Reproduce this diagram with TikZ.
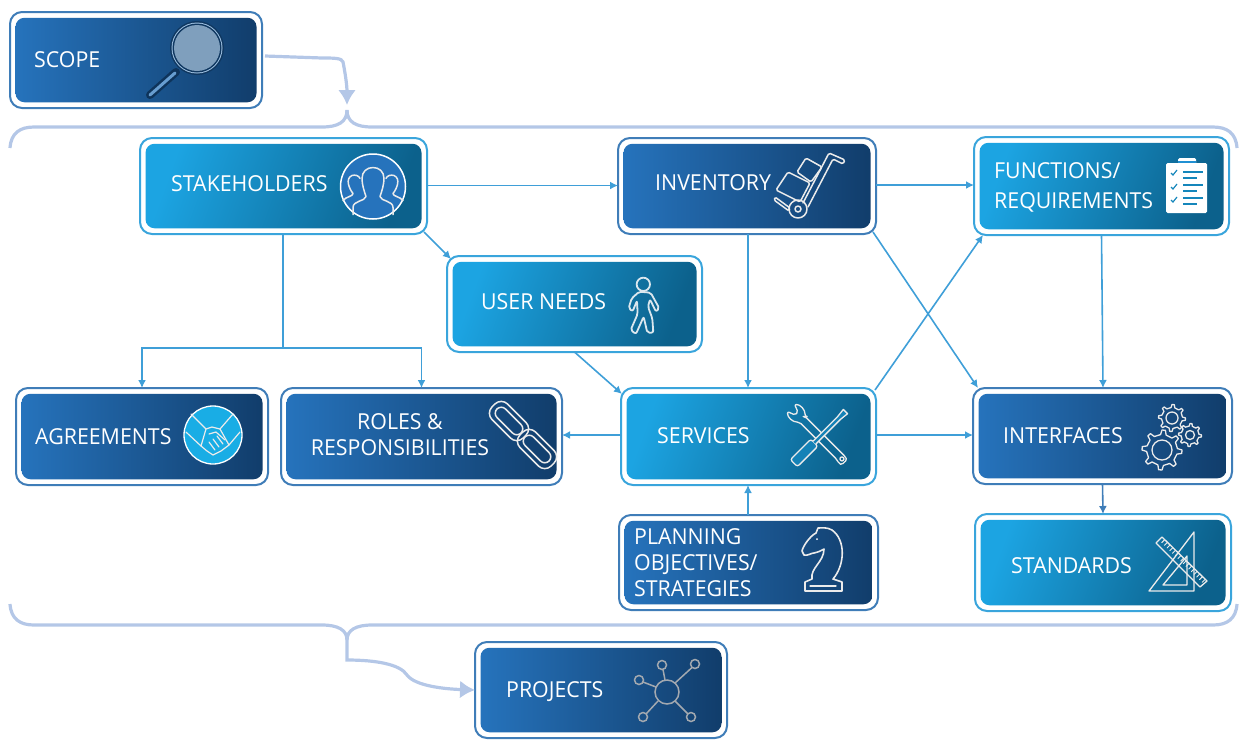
\documentclass[tikz,border=0pt]{standalone}
\usepackage{fontspec}
\setmainfont[FakeStretch=0.97]{Open Sans}
\usetikzlibrary{arrows.meta,calc,shapes.geometric}
\definecolor{dkL}{HTML}{2673BC}
\definecolor{dkR}{HTML}{113D6B}
\definecolor{ltL}{HTML}{1CA4E2}
\definecolor{ltR}{HTML}{0C618C}
\definecolor{dkB}{HTML}{3F7DB8}
\definecolor{ltB}{HTML}{3AA5DC}
\definecolor{brc}{HTML}{B4C7E7}
\definecolor{cn}{HTML}{3F9FD8}
\definecolor{icgrey}{HTML}{A3A9B0}
\definecolor{lens}{HTML}{7F9FBD}
\tikzset{
 dkout/.style={draw=dkB,fill=white,line width=2pt,rounded corners=12pt,inner sep=0pt,outer sep=0pt},
 ltout/.style={draw=ltB,fill=white,line width=2pt,rounded corners=12pt,inner sep=0pt,outer sep=0pt},
 dkin/.style={rounded corners=9pt,inner sep=0pt,left color=dkL,right color=dkR},
 ltin/.style={rounded corners=9pt,inner sep=0pt,left color=ltL,right color=ltR,shading angle=70},
 lbl/.style={text=white,inner sep=0pt,anchor=west,align=left,yshift=-1pt,font=\fontsize{22}{26}\selectfont},
 lblc/.style={lbl,anchor=center,align=center},
 link/.style={draw=cn,line width=1.6pt,-{Latex[length=8pt,width=8pt]}},
 plain/.style={draw=cn,line width=1.6pt},
 brace/.style={draw=brc,line width=3.2pt},
 bigtip/.style={-{Latex[length=15pt,width=18pt]}},
 ic/.style={draw=white!92!black,line width=1.5pt,line join=round,line cap=round},
}
\newcommand\bx[6]{%
 \node[#6out,minimum width={(#4-#2)*1pt},minimum height={(#5-#3)*1pt}] (#1) at ({(#2+#4)/2},{(#3+#5)/2}) {};
 \node[#6in,minimum width={(#4-#2-11)*1pt},minimum height={(#5-#3-11.5)*1pt}] (#1i) at ({(#2+#4)/2},{(#3+#5)/2}) {};
}
\newcommand\gearic[6]{% cx cy ro ri teeth hole
 \begin{scope}[shift={(#1,#2)}]
 \pgfmathsetmacro\stp{360/#5}
 \draw[ic,line width=1.3pt] (0:#3)
  \foreach \k in {1,...,#5}{
   -- ({(\k-1)*\stp+\stp*0.22}:#3) -- ({(\k-1)*\stp+\stp*0.34}:#4) -- ({(\k-1)*\stp+\stp*0.88}:#4) -- ({\k*\stp-\stp*0.0}:#3)
  } -- cycle;
 \draw[ic,line width=1.3pt] (0,0) circle (#6);
 \end{scope}
}
\begin{document}
\begin{tikzpicture}[x=1pt,y=-1pt]
\useasboundingbox (0,0) rectangle (1239,740);
% boxes
\bx{scope}{10}{12}{262}{108}{dk}
\bx{stk}{140}{138}{427}{234}{lt}
\bx{inv}{618}{138}{876}{234}{dk}
\bx{fun}{974}{137}{1229}{235}{lt}
\bx{usr}{447}{256}{702}{352}{lt}
\bx{agr}{16}{388}{268}{485}{dk}
\bx{rol}{281}{388}{562}{485}{dk}
\bx{srv}{621}{388}{876}{485}{lt}
\bx{itf}{973}{388}{1232}{484}{dk}
\bx{pln}{619}{515}{878}{610}{dk}
\bx{std}{975}{514}{1231}{611}{lt}
\bx{prj}{475}{642}{727}{738}{dk}
% labels
\node[lbl] (tscope) at (34,59) {SCOPE};
\node[lbl] (tstk) at (171,183) {STAKEHOLDERS};
\node[lbl] (tinv) at (655,182) {INVENTORY};
\node[lbl] (tfun) at (994,186) {FUNCTIONS/\\[4pt]REQUIREMENTS};
\node[lbl] (tusr) at (481,301) {USER NEEDS};
\node[lbl] (tagr) at (35,436) {AGREEMENTS};
\node[lblc] (trol) at (400,434) {ROLES \&\\RESPONSIBILITIES};
\node[lbl] (tsrv) at (657,435) {SERVICES};
\node[lbl] (titf) at (1003,435) {INTERFACES};
\node[lbl] (tpln) at (634,562) {PLANNING\\OBJECTIVES/\\STRATEGIES};
\node[lbl] (tstd) at (1011,565) {STANDARDS};
\node[lbl] (tprj) at (506,691) {PROJECTS};
% connectors
\draw[link] ([yshift=0.5pt]stk.east) -- ([yshift=0.5pt]inv.west);
\draw[link] ([yshift=1pt]inv.east) -- ([yshift=1pt]fun.west);
\draw[link] ([shift={(-3pt,2pt)}]stk.south east) -- ([shift={(4pt,-3pt)}]usr.north west);
\coordinate (stkb) at (283,348);
\draw[plain] (stk.south -| stkb) -- (stkb);
\draw[link] (stkb) -| (agr.north);
\draw[link] (stkb) -| (rol.north);
\draw[link] ([xshift=1pt]inv.south) -- ([xshift=-0.5pt]srv.north);
\draw[link] ([shift={(-3pt,2pt)}]inv.south east) -- ([xshift=5pt]itf.north west);
\draw[link] ([shift={(-1pt,-2pt)}]srv.north east) -- ([xshift=9pt]fun.south west);
\draw[link] (usr.south) -- ([shift={(1pt,-6pt)}]srv.north west);
\draw[link] (fun.south) -- ([xshift=0.5pt]itf.north);
\draw[link] ([yshift=1.5pt]srv.east) -- ([yshift=1pt]itf.west);
\draw[link] ([yshift=1.5pt]srv.west) -- ([yshift=1.5pt]rol.east);
\draw[link] ([xshift=-0.5pt]pln.north) -- ([xshift=-0.5pt]srv.south);
\draw[link,draw=dkB] (itf.south) -- (std.north);
% braces
\coordinate (jt) at (347,105);
\coordinate (jtm) at (347,110);
\coordinate (jb) at (347,640);
\coordinate (jbe) at (347,660);
\coordinate (tl) at (10,148);
\coordinate (tr) at (1237,148);
\coordinate (bl) at (10,604);
\coordinate (br) at (1237,604);
\draw[brace] (tl) .. controls (11,133) and (20,127) .. (34,127) -- (322,127) .. controls (338,127) and (347,122) .. (jtm);
\draw[brace] (tr) .. controls (1236,133) and (1227,127) .. (1213,127) -- (372,127) .. controls (356,127) and (347,122) .. (jtm);
\draw[brace] (bl) .. controls (11,619) and (20,625) .. (34,625) -- (322,625) .. controls (338,625) and (347,630) .. (jb);
\draw[brace] (br) .. controls (1236,619) and (1227,625) .. (1213,625) -- (372,625) .. controls (356,625) and (347,630) .. (jb);
\draw[brace,bigtip] ([shift={(3pt,4pt)}]scope.east) -- (322,58) .. controls (334,58) and (342,58) .. (343,62) .. controls (345,72) and (347,85) .. (jt);
\draw[brace,bigtip] (jb) -- (jbe) .. controls (375,660) and (400,664) .. (407,675) .. controls (415,686) and (445,689) .. (prj.west);
% magnifier
\draw[line width=8pt,draw=dkR!85!black,line cap=round] (176,72) -- (150,95);
\draw[line width=3pt,draw=dkL!70!white,line cap=round] (175,73) -- (150,95);
\fill[dkR!90!black] (197,48) circle (27);
\fill[dkL!45!white] (197,48) circle (25.5);
\fill[dkR!90!black] (197,48) circle (24.5);
\fill[lens] (197,48) circle (23);
% people
\begin{scope}[shift={(373,186.5)}]
 \fill[dkL] (0,0) circle (33);
 \draw[white,line width=1.5pt] (0,0) circle (32.5);
 \begin{scope}[ic,line width=1.5pt]
 \draw (-20,28) -- (-20,21) .. controls (-20,14) and (-8,15) .. (-7,10) .. controls (-9,4) and (-11,-2) .. (-11,-8) .. controls (-11,-15) and (-6,-19) .. (0,-19) .. controls (6,-19) and (11,-15) .. (11,-8) .. controls (11,-2) and (9,4) .. (7,10) .. controls (8,15) and (20,14) .. (20,21) -- (20,28);
 \draw (-30,14) .. controls (-27,10) and (-20,10) .. (-20,7) .. controls (-24,2) and (-28,-8) .. (-21,-11) .. controls (-18,-12) and (-14,-11) .. (-13,-8);
 \draw (30,14) .. controls (27,10) and (20,10) .. (20,7) .. controls (24,2) and (28,-8) .. (21,-11) .. controls (18,-12) and (14,-11) .. (13,-8);
 \end{scope}
\end{scope}
% hand truck
\begin{scope}[shift={(2,0)}]
\draw[ic,rounded corners=1.5pt] (786,172) -- (808,183) -- (798,202) -- (774,190) -- cycle;
\draw[ic,rounded corners=1.5pt] (804,158) -- (820,167) -- (809,182) -- (795,172) -- cycle;
\draw[ic,rounded corners=1.5pt] (801,203) -- (827,153) -- (843,160) -- (841,164) -- (831,159) -- (806,207);
\draw[ic,rounded corners=1.5pt] (773,197) -- (788,208) -- (787,211) -- (772,200) -- cycle;
\draw[ic] (796,209) circle (9);
\draw[ic] (796,209) circle (3);
\end{scope}
% clipboard
\begin{scope}[shift={(2,0)}]
\fill[white,rounded corners=1.5pt] (1164,163) rectangle (1205,213);
\fill[white,rounded corners=1.5pt] (1176,158) rectangle (1194,165);
\draw[draw=ltL!60!dkL,line width=1.1pt] (1176,162) -- (1194,162);
\begin{scope}[draw=ltL!55!ltR,line width=1.6pt]
 \foreach \yy/\e in {172/1201,178/1195,185/1201,191/1195,198/1201,204/1195}{\draw (1181,\yy) -- (\e,\yy);}
 \foreach \yy in {173,187,200}{\draw[line width=1.2pt] (1169,\yy) -- (1171,\yy+2) -- (1175,\yy-3);}
\end{scope}
\end{scope}
% walker
\begin{scope}[shift={(440,250)},x=0.3333pt,y=-0.3333pt,draw=white!85!ltR]
 \draw[line width=1.8pt,draw=white!85!ltR] (610,103) circle (20);
 \draw[line width=1.8pt,draw=white!85!ltR,rounded corners=2pt,line join=round] (598,125) -- (575,145) -- (566,175) -- (578,184) -- (591,152) -- (593,192) -- (572,240) -- (588,252) -- (611,200) -- (622,248) -- (640,248) -- (637,205) -- (624,170) -- (630,148) -- (648,185) -- (658,175) -- (632,128) -- cycle;
\end{scope}
% handshake
\begin{scope}[shift={(213,435)}]
 \fill[ltL!90!cyan] (0,0) circle (29);
 \draw[white,line width=1.3pt] (0,0) circle (29);
 \draw[ic,line width=1.2pt] (-22,-21) -- (-7,-6);
 \draw[ic,line width=1.2pt] (20,-21) -- (7,-6);
 \draw[ic,line width=1.2pt] (-27,-3) -- (-12,11);
 \draw[ic,line width=1.2pt] (16,10) -- (27,-3);
 \draw[ic,line width=1.2pt] (-7,-6) -- (-1,-8) -- (7,-6) -- (16,10) -- (8,16) -- (0,20) -- (-6,16) -- (-12,11) -- (-7,-6);
 \draw[ic,line width=1.2pt] (-4,-1) -- (3,-3) -- (12,5);
 \draw[ic,line width=1.2pt] (-4,7) -- (2,15) (0,4) -- (6,12) (4,1) -- (10,9);
\end{scope}
% chain
\begin{scope}[shift={(509,421)},rotate=-45]
 \draw[ic,rounded corners=9pt] (-22,-11) rectangle (22,11);
 \draw[ic,rounded corners=6pt] (-17,-6) rectangle (17,6);
\end{scope}
\begin{scope}[shift={(537,449)},rotate=-45]
 \draw[ic,rounded corners=9pt] (-22,-11) rectangle (22,11);
 \draw[ic,rounded corners=6pt] (-17,-6) rectangle (17,6);
\end{scope}
% wrench and screwdriver
\begin{scope}[shift={(820,437)},rotate=-45]
 \draw[ic,line width=1.3pt,rounded corners=2pt] (-25,-4) -- (28,-4) -- (32,-4) arc[start angle=-70,end angle=70,radius=5] -- (28,4) -- (-25,4) .. controls (-30,9) and (-37,9) .. (-41,5) -- (-33,2) -- (-33,-2) -- (-41,-5) .. controls (-37,-9) and (-30,-9) .. cycle;
 \draw[ic,line width=1.3pt] (31,0) circle (2);
\end{scope}
\begin{scope}[shift={(820,437)},rotate=45]
 \draw[ic,line width=1.3pt,rounded corners=2.5pt,fill=ltL!50!ltR] (-37,-5) rectangle (-8,5);
 \draw[ic,line width=1.3pt,fill=ltL!50!ltR] (-8,-2) -- (27,-2) -- (36,-3) -- (36,3) -- (27,2) -- (-8,2);
\end{scope}
% gears
\gearic{1162}{450}{20}{15.5}{8}{10}
\gearic{1172}{418}{13.5}{10.5}{8}{6}
\gearic{1190}{435}{11.5}{9}{8}{4.5}
% knight
\draw[ic,line width=1.6pt] (805,591) -- (842,591) -- (842,582) -- (833,579) .. controls (845,565) and (846,540) .. (832,530) .. controls (827,527) and (822,528) .. (818,528) -- (816,533) .. controls (810,536) and (803,546) .. (802,551) -- (804,555) .. controls (808,556) and (811,553) .. (814,553) .. controls (818,552) and (821,551) .. (824,549) .. controls (824,562) and (810,568) .. (812,579) -- (805,582) -- cycle;
\draw[ic,line width=1.3pt] (810,586) -- (836,586);
\fill[white] (817,539) circle (1);
% set square and ruler
\draw[ic,line width=1.3pt] (1194,532) -- (1149,591) -- (1194,591) -- cycle;
\draw[ic,line width=1.3pt] (1187,556) -- (1163,585) -- (1187,585) -- cycle;
\draw[ic,line width=1.3pt] (1156,543) -- (1162,537) -- (1207,581) -- (1200,587) -- cycle;
\foreach \t in {0.06,0.12,...,0.97}{
 \draw[ic,line width=0.9pt] ($(1162,537)!\t!(1207,581)$) -- ++(-3,3);
}
% network
\begin{scope}[draw=icgrey,line width=1.5pt]
 \draw (667,692) circle (12);
 \draw (662,665) circle (4.5) (695,664) circle (4.5) (639,680) circle (4.5) (643,717) circle (4.5) (691,717) circle (4.5);
 \draw (665,680) -- (663,669.5) (675,683) -- (692,667.5) (656,687) -- (643,682) (658,701) -- (646,714) (675,701) -- (688,714);
\end{scope}
\end{tikzpicture}
\end{document}
